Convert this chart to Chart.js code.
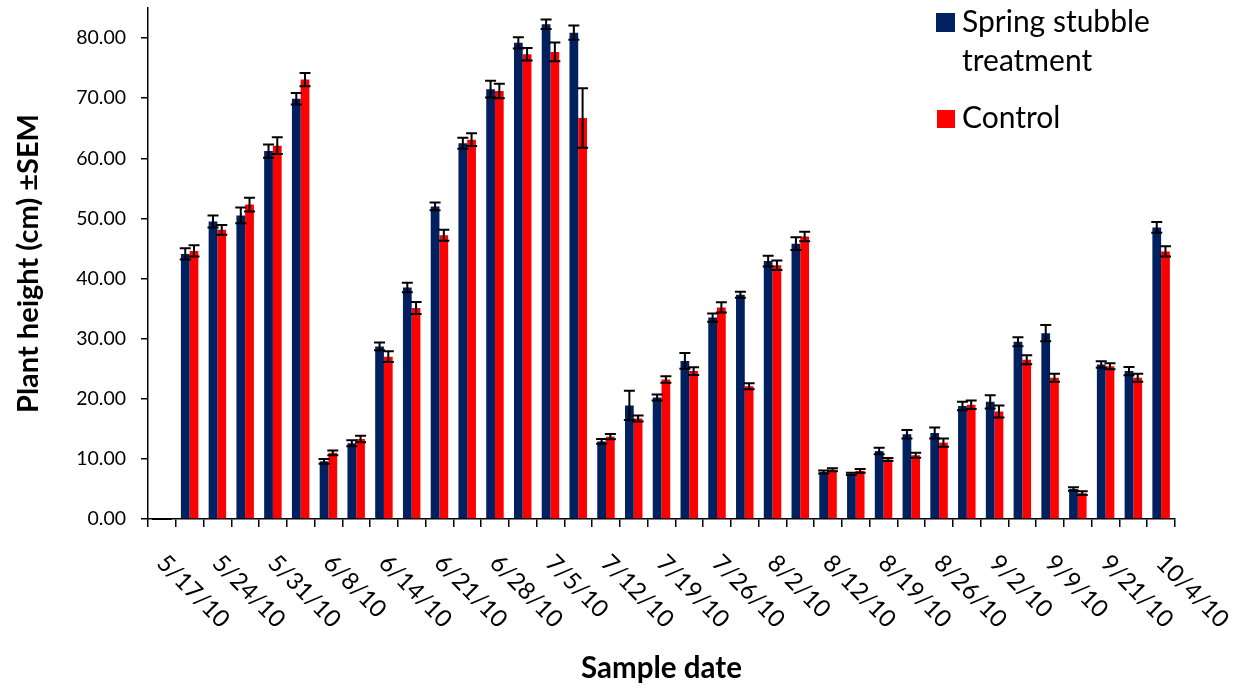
<!DOCTYPE html>
<html>
<head>
<meta charset="utf-8">
<script src="https://cdn.jsdelivr.net/npm/chart.js@4"></script>
<style>
  body { margin: 0; background: #fff; }
</style>
</head>
<body>
<canvas id="myChart" width="1238" height="690"></canvas>
<script>
// sample dates shown on the axis (every other category)
const tickdates = ['5/17/10','5/24/10','5/31/10','6/8/10','6/14/10','6/21/10','6/28/10','7/5/10','7/12/10','7/19/10','7/26/10','8/2/10','8/12/10','8/19/10','8/26/10','9/2/10','9/9/10','9/21/10','10/4/10'];

const spring = [0, 44.1, 49.5, 50.5, 61.2, 69.9, 9.6, 12.6, 28.7, 38.5, 52.0, 62.5, 71.5, 79.2, 82.3, 80.9, 12.9, 18.9, 20.2, 26.3, 33.5, 37.3, 42.9, 45.8, 7.8, 7.5, 11.3, 14.1, 14.3, 18.8, 19.5, 29.5, 30.9, 5.0, 25.7, 24.6, 48.5];
const springErr = [0, 0.95, 1.0, 1.3, 1.1, 0.95, 0.4, 0.5, 0.65, 0.8, 0.65, 0.9, 1.4, 0.95, 0.8, 1.2, 0.4, 2.45, 0.5, 1.3, 0.7, 0.5, 0.9, 1.05, 0.25, 0.2, 0.55, 0.7, 0.9, 0.7, 1.1, 0.75, 1.35, 0.3, 0.55, 0.7, 0.9];

const control = [0, 44.6, 48.1, 52.3, 62.1, 73.1, 11.0, 13.3, 27.0, 35.1, 47.2, 63.1, 71.2, 77.3, 77.7, 66.7, 13.7, 16.7, 23.2, 24.6, 35.2, 22.1, 42.2, 47.0, 8.2, 8.0, 9.9, 10.6, 12.7, 19.0, 17.9, 26.5, 23.5, 4.3, 25.4, 23.5, 44.5];
const controlErr = [0, 0.95, 0.8, 1.15, 1.4, 1.1, 0.4, 0.55, 0.9, 1.0, 0.9, 1.05, 1.2, 1.05, 1.55, 4.95, 0.45, 0.5, 0.55, 0.65, 0.85, 0.5, 0.8, 0.8, 0.25, 0.3, 0.25, 0.4, 0.7, 0.7, 1.0, 0.75, 0.65, 0.3, 0.5, 0.65, 0.85];

const chartlabel = new Array;
for(let i=0;i<spring.length;i++){
	chartlabel[i] = (i % 2 == 0) ? tickdates[i/2] : '';
}

const errs = [springErr, controlErr];
const navy = '#002060';
const red = '#ff0000';

// error bars drawn on top of the bars
const errorBars = {
	id: 'errorBars',
	afterDatasetsDraw(chart) {
		const ctx = chart.ctx;
		const ys = chart.scales.y;
		ctx.save();
		ctx.strokeStyle = '#000';
		ctx.lineWidth = 2;
		chart.data.datasets.forEach(function(ds, d) {
			const meta = chart.getDatasetMeta(d);
			meta.data.forEach(function(bar, i) {
				const v = ds.data[i];
				const e = errs[d][i];
				const x = bar.x;
				const y1 = ys.getPixelForValue(v + e);
				const y2 = ys.getPixelForValue(v - e);
				ctx.beginPath();
				ctx.moveTo(x, y1); ctx.lineTo(x, y2);
				ctx.moveTo(x - 5.5, y1); ctx.lineTo(x + 5.5, y1);
				ctx.moveTo(x - 5.5, y2); ctx.lineTo(x + 5.5, y2);
				ctx.stroke();
			});
		});
		ctx.restore();
	}
};

// slanted date labels and the legend
const extras = {
	id: 'extras',
	afterDraw(chart) {
		const ctx = chart.ctx;
		const xs = chart.scales.x;
		ctx.save();
		ctx.fillStyle = '#000';
		ctx.font = '24px Lato';
		ctx.textAlign = 'left';
		ctx.textBaseline = 'middle';
		for(let i=0;i<chartlabel.length;i++){
			if(chartlabel[i] == '') continue;
			ctx.save();
			ctx.translate(xs.getPixelForValue(i) - 1, 559);
			ctx.rotate(Math.PI / 4);
			ctx.fillText(chartlabel[i], 0, 0);
			ctx.restore();
		}
		// legend
		ctx.fillStyle = navy;
		ctx.fillRect(936, 13, 19, 19);
		ctx.fillStyle = red;
		ctx.fillRect(937, 110, 18, 18);
		ctx.fillStyle = '#000';
		ctx.font = '30px Lato';
		ctx.textBaseline = 'alphabetic';
		ctx.fillText('Spring stubble', 962, 32);
		ctx.fillText('treatment', 962, 71);
		ctx.fillText('Control', 962, 128);
		ctx.restore();
	}
};

Chart.defaults.font.family = 'Lato';
Chart.defaults.color = '#000';

const ctx = document.getElementById('myChart');

const myChart = new Chart(ctx, {
    type: 'bar',
    data: {
        labels: chartlabel,
        datasets: [{
            label: 'Spring stubble treatment',
            data: spring,
            backgroundColor: navy,
            barPercentage: 1,
            categoryPercentage: 0.63
        }, {
            label: 'Control',
            data: control,
            backgroundColor: red,
            barPercentage: 1,
            categoryPercentage: 0.63
        }]
    },
    options: {
        responsive: false,
        animation: false,
        layout: {
            padding: {left: 0, right: 63, top: 8, bottom: 0}
        },
        scales: {
			x: {
				grid: {
					drawOnChartArea: false,
					color: '#000',
					lineWidth: 1.5,
					tickLength: 8
				},
				border: { color: '#000', width: 1.5 },
				ticks: { display: false },
				title: {
					display: true,
					text: 'Sample date',
					font: { size: 29.5, weight: 'bold' },
					padding: { top: 0, bottom: 4 }
				},
				afterFit: function(scale) {
					scale.height = 171;
					scale.paddingLeft = 0; scale.paddingRight = 0;
				}
			},
            y: {
                min: 0,
                max: 85,
				grid: {
					drawOnChartArea: false,
					color: '#000',
					lineWidth: 1.5,
					tickLength: 7
				},
				border: { color: '#000', width: 1.5 },
				ticks: {
					stepSize: 10,
					padding: 15,
					font: { size: 19.5 },
					callback: function(v) { return v.toFixed(2); }
				},
				afterBuildTicks: function(scale) {
					scale.ticks = scale.ticks.filter(function(t) { return t.value % 10 == 0; });
				},
				title: {
					display: true,
					text: 'Plant height (cm) ±SEM',
					font: { size: 29, weight: 'bold' },
					padding: { top: 11, bottom: 0 }
				},
				afterFit: function(scale) {
					scale.width = 148;
					scale.paddingTop = 0; scale.paddingBottom = 0;
				}
            },
        },
		plugins: {
			legend: { display: false },
			tooltip: { enabled: false }
		}
    },
    plugins: [errorBars, extras]
});
</script>
</body>
</html>
